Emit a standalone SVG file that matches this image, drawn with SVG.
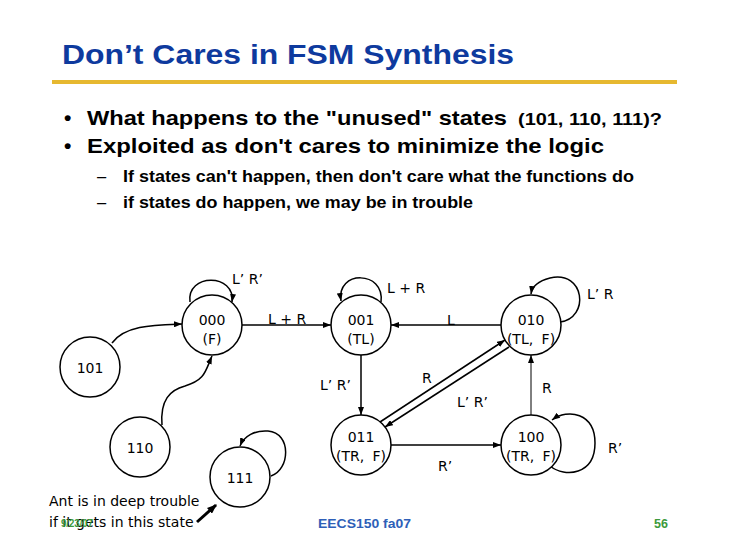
<svg xmlns="http://www.w3.org/2000/svg" width="730" height="547" viewBox="0 0 730 547">
<style>
.title{font-family:"Liberation Sans",Arial,sans-serif;font-weight:bold;font-size:28px;fill:#0E3A9E}
.b1{font-family:"Liberation Sans",Arial,sans-serif;font-weight:bold;font-size:21px;fill:#000}
.b2{font-family:"Liberation Sans",Arial,sans-serif;font-weight:bold;font-size:16.5px;fill:#000}
.dash{font-family:"Liberation Sans",Arial,sans-serif;font-size:16.5px;fill:#000}
.n{font-family:"DejaVu Sans",Verdana,sans-serif;font-size:14px;fill:#000;text-anchor:middle}
.lbl{font-family:"DejaVu Sans",Verdana,sans-serif;font-size:14px;fill:#000}
.st{fill:#fff;stroke:#000;stroke-width:1.5}
.e{fill:none;stroke:#000;stroke-width:1.5}
.thin{fill:none;stroke:#000;stroke-width:1}
.foot{font-family:"Liberation Sans",Arial,sans-serif;font-weight:bold}
</style>
<defs>
<marker id="ah" viewBox="0 0 8 6" refX="8" refY="3" markerWidth="8" markerHeight="6" markerUnits="userSpaceOnUse" orient="auto"><path d="M0,0 L8,3 L0,6 z" fill="#000"/></marker>
<marker id="ahb" viewBox="0 0 8 6" refX="7" refY="3" markerWidth="10" markerHeight="8" markerUnits="userSpaceOnUse" orient="auto"><path d="M0,0 L8,3 L0,6 z" fill="#000"/></marker>
</defs>
<rect width="730" height="547" fill="#fff"/>
<text class="title" x="62" y="64" textLength="452" lengthAdjust="spacingAndGlyphs">Don’t Cares in FSM Synthesis</text>
<line x1="52" y1="82" x2="677" y2="82" stroke="#E6B830" stroke-width="4"/>
<text class="b1" x="64" y="125">•</text>
<text class="b1" x="87" y="125" textLength="420" lengthAdjust="spacingAndGlyphs">What happens to the "unused" states</text>
<text class="b1" x="518" y="125" style="font-size:17px" textLength="144" lengthAdjust="spacingAndGlyphs">(101, 110, 111)?</text>
<text class="b1" x="64" y="153">•</text>
<text class="b1" x="87" y="153" textLength="517" lengthAdjust="spacingAndGlyphs">Exploited as don't cares to minimize the logic</text>
<text class="dash" x="97" y="182">–</text>
<text class="b2" x="123" y="182" textLength="511" lengthAdjust="spacingAndGlyphs">If states can't happen, then don't care what the functions do</text>
<text class="dash" x="97" y="208">–</text>
<text class="b2" x="123" y="208" textLength="350" lengthAdjust="spacingAndGlyphs">if states do happen, we may be in trouble</text>

<g id="connectors">
<path class="e" d="M190,302 C186,273 236,273 232,302" marker-end="url(#ah)"/>
<line class="e" x1="242" y1="325" x2="331" y2="325" marker-end="url(#ah)"/>
<path class="e" d="M381,302 C385,270 336,270 341,301" marker-end="url(#ah)"/>
<line class="e" x1="501" y1="325" x2="391" y2="325" marker-end="url(#ah)"/>
<path class="e" d="M560,322 C590,318 585,270 550,278 C538,281 532,287 531,294" marker-end="url(#ah)"/>
<line class="e" x1="361" y1="355" x2="361" y2="415" marker-end="url(#ah)"/>
<line class="e" x1="380" y1="422" x2="505" y2="340" marker-end="url(#ah)"/>
<line class="e" x1="509" y1="347" x2="385" y2="427" marker-end="url(#ah)"/>
<line class="thin" x1="531" y1="415" x2="531" y2="355" marker-end="url(#ah)"/>
<line class="e" x1="391" y1="445" x2="501" y2="445" marker-end="url(#ah)"/>
<path class="e" d="M550,466 C565,478 595,475 595,443 C595,413 568,408 552,420" marker-end="url(#ah)"/>
<path class="e" d="M112,343 C125,325 155,325 182,324" marker-end="url(#ah)"/>
<path class="e" d="M162,425 C160,400 170,390 185,386 C205,380 205,372 212,356" marker-end="url(#ah)"/>
<path class="e" d="M271,476 C290,470 292,433 268,431 C255,430 244,436 240,446" marker-end="url(#ah)"/>
<line x1="197" y1="522" x2="216" y2="505" stroke="#000" stroke-width="3" marker-end="url(#ahb)"/>
</g>

<g id="labels">
<text class="lbl" x="232" y="284">L’ R’</text>
<text class="lbl" x="268" y="324">L + R</text>
<text class="lbl" x="387" y="293">L + R</text>
<text class="lbl" x="447" y="325">L</text>
<text class="lbl" x="587" y="299">L’ R</text>
<text class="lbl" x="320" y="390">L’ R’</text>
<text class="lbl" x="422" y="383">R</text>
<text class="lbl" x="457" y="407">L’ R’</text>
<text class="lbl" x="542" y="393">R</text>
<text class="lbl" x="438" y="471">R’</text>
<text class="lbl" x="608" y="453">R’</text>
</g>

<g id="s000"><circle class="st" cx="212" cy="325" r="30"/><text class="n" x="212" y="325">000</text><text class="n" x="212" y="344">(F)</text></g>
<g id="s001"><circle class="st" cx="361" cy="325" r="30"/><text class="n" x="361" y="325">001</text><text class="n" x="361" y="344">(TL)</text></g>
<g id="s010"><circle class="st" cx="531" cy="325" r="30"/><text class="n" x="531" y="325">010</text><text class="n" x="531" y="344" style="word-spacing:4px">(TL, F)</text></g>
<g id="s011"><circle class="st" cx="361" cy="445" r="30"/><text class="n" x="361" y="442">011</text><text class="n" x="361" y="461" style="word-spacing:4px">(TR, F)</text></g>
<g id="s100"><circle class="st" cx="531" cy="445" r="30"/><text class="n" x="531" y="442">100</text><text class="n" x="531" y="461" style="word-spacing:4px">(TR, F)</text></g>
<g id="s101"><circle class="st" cx="90" cy="367" r="30"/><text class="n" x="90" y="373">101</text></g>
<g id="s110"><circle class="st" cx="140" cy="447" r="30"/><text class="n" x="140" y="453">110</text></g>
<g id="s111"><circle class="st" cx="240" cy="477" r="30"/><text class="n" x="240" y="483">111</text></g>

<g id="note">
<text class="lbl" x="49" y="506">Ant is in deep trouble</text>
<text class="lbl" x="49" y="527">if it gets in this state</text>
</g>
<text class="foot" x="61" y="527" style="font-size:11px;fill:#3C9A3C" textLength="32" lengthAdjust="spacingAndGlyphs">9/23/07</text>
<text class="foot" x="318" y="528" style="font-size:12.5px;fill:#2E5FB8" textLength="93" lengthAdjust="spacingAndGlyphs">EECS150 fa07</text>
<text class="foot" x="654" y="528" style="font-size:12.5px;fill:#3C9A3C">56</text>
</svg>
